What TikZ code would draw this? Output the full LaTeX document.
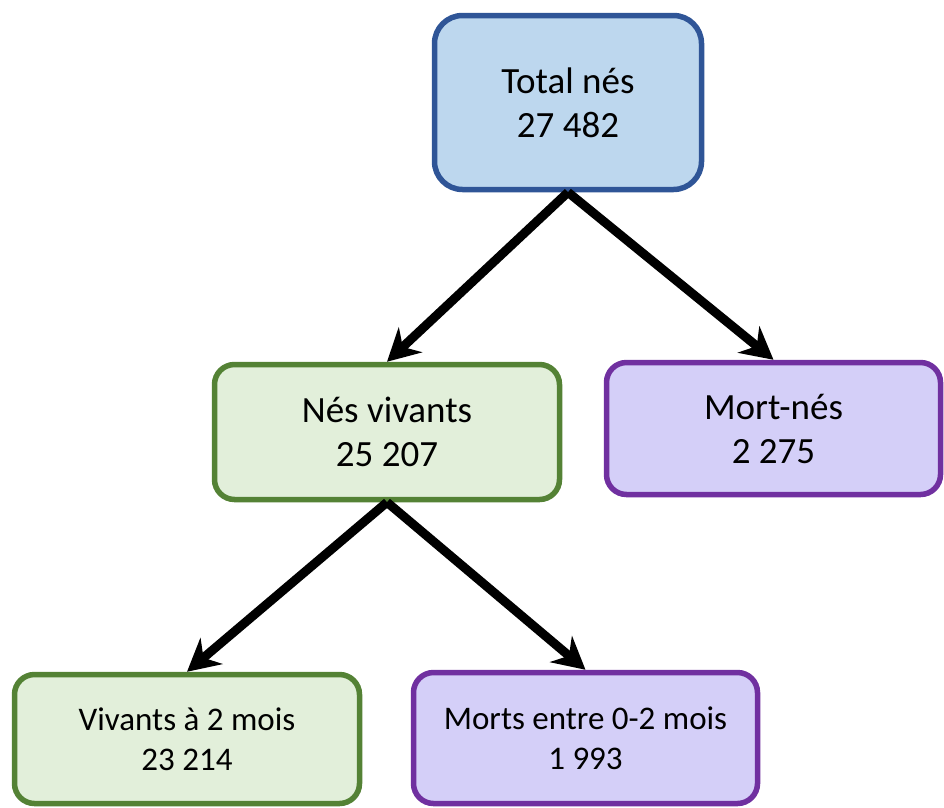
\documentclass[tikz,border=0pt]{standalone}
\usepackage{fontspec}
\setmainfont{Carlito}
\usetikzlibrary{arrows.meta}

\definecolor{bluefill}{HTML}{BDD7EE}
\definecolor{blueline}{HTML}{2F5597}
\definecolor{greenfill}{HTML}{E2EFDA}
\definecolor{greenline}{HTML}{548235}
\definecolor{violetfill}{HTML}{D4CFF8}
\definecolor{violetline}{HTML}{7030A0}

\begin{document}
\begin{tikzpicture}[x=1pt, y=-1pt,
    box/.style={draw, line width=5.5pt, rounded corners=20pt, align=center, inner sep=0pt,
      font=\fontsize{37}{44}\selectfont},
    small/.style={font=\fontsize{33}{40}\selectfont},
    total/.style={box, fill=bluefill, draw=blueline, rounded corners=28pt},
    vivant/.style={box, fill=greenfill, draw=greenline},
    mort/.style={box, fill=violetfill, draw=violetline},
    fleche/.style={line width=9pt, -{Stealth[length=32pt, width=34pt]}}]
        \useasboundingbox (0,0) rectangle (944,807);

        \node[total, minimum width=267pt, minimum height=174pt] (1) at (568,102.5) {Total nés\\27 482};
        \node[vivant, minimum width=345pt, minimum height=135pt] (2) at (387,432) {Nés vivants\\25 207};
        \node[mort, minimum width=334pt, minimum height=132pt] (3) at (773.5,428.5) {Mort-nés\\2 275};
        \node[vivant, small, minimum width=345pt, minimum height=129pt] (4) at (187,739) {Vivants à 2 mois\\23 214};
        \node[mort, small, minimum width=344pt, minimum height=131pt] (5) at (585.5,738) {Morts entre 0-2 mois\\1 993};

        \draw[fleche] (1.south) -- (2.north);
        \draw[fleche] (1.south) -- (3.north);
        \draw[fleche] (2.south) -- (4.north);
        \draw[fleche] (2.south) -- (5.north);
      \end{tikzpicture}
\end{document}
